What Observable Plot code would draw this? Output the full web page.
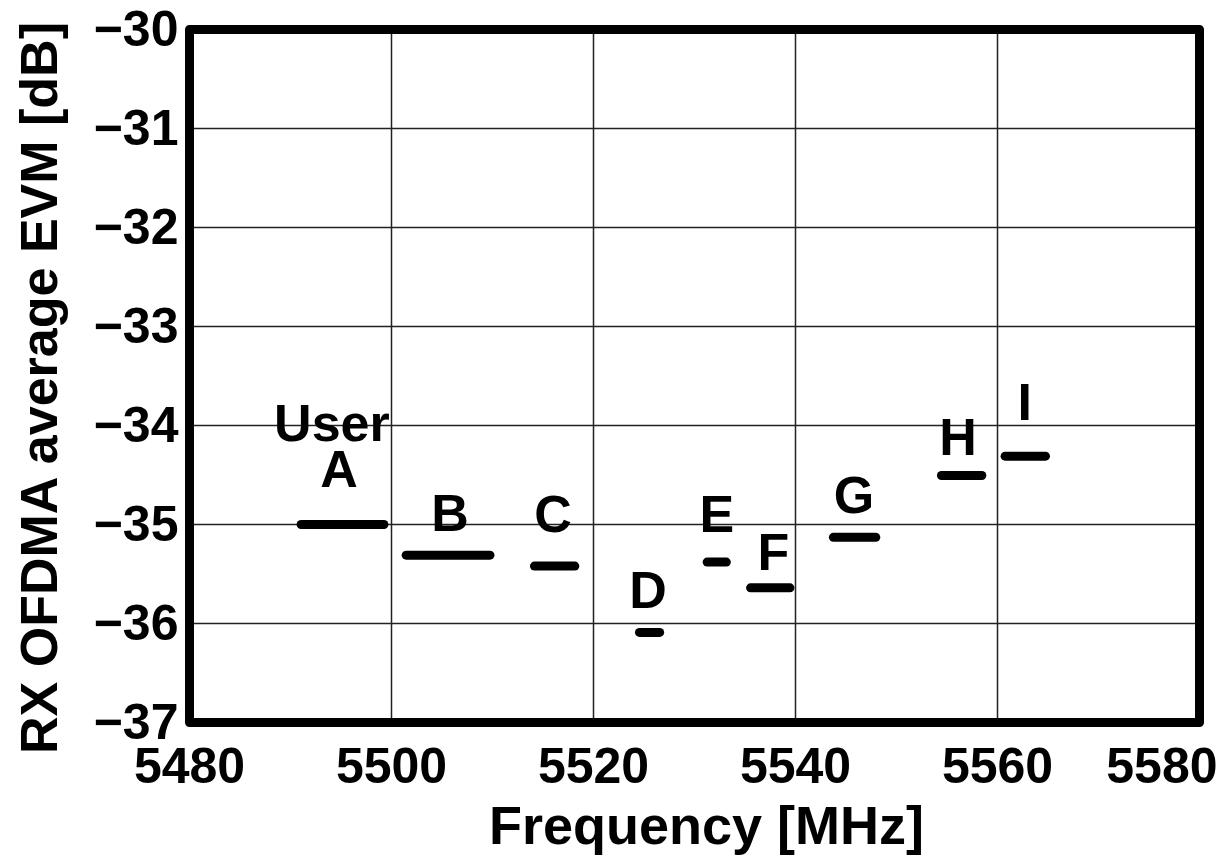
<!DOCTYPE html>
<html>
<head>
<meta charset="utf-8">
<script src="https://cdn.jsdelivr.net/npm/d3@7"></script>
<script src="https://cdn.jsdelivr.net/npm/@observablehq/plot@0.6"></script>
<style>
  html, body { margin: 0; padding: 0; background: #fff; }
  #chart svg { display: block; }
</style>
</head>
<body>
<div id="chart"></div>
<script>
// Users (resource units) and their measured EVM
const users = ["A", "B", "C", "D", "E", "F", "G", "H", "I"];
const freqStart = [5491.1, 5501.5, 5514.2, 5524.6, 5531.3, 5535.6, 5543.8, 5554.5, 5560.8];
const freqEnd   = [5499.3, 5509.8, 5518.2, 5526.6, 5533.2, 5539.5, 5548.0, 5558.5, 5564.8];
const evmDb     = [-35.0, -35.31, -35.42, -36.09, -35.38, -35.64, -35.13, -34.505, -34.31];

// Annotation labels (anchored in data units)
const labelText = ["User", "A", "B", "C", "D", "E", "F", "G", "H", "I"];
const labelFreq = [5494.1, 5494.8, 5505.8, 5516.0, 5525.4, 5532.2, 5537.8, 5545.8, 5556.1, 5562.7];
const labelDb   = [-33.99, -34.45, -34.90, -34.91, -35.68, -34.91, -35.29, -34.72, -34.13, -33.78];

// Axis ticks
const xTicks = [5480, 5500, 5520, 5540, 5560, 5580];
const yTicks = [-30, -31, -32, -33, -34, -35, -36, -37];

const bars = users.map((u, i) => ({user: u, x1: freqStart[i], x2: freqEnd[i], y: evmDb[i]}));
const labels = labelText.map((t, i) => ({text: t, x: labelFreq[i], y: labelDb[i]}));

const font = "'Liberation Sans', Arial, Helvetica, sans-serif";

const chart = Plot.plot({
  width: 1224,
  height: 856,
  marginLeft: 189,
  marginRight: 25,
  marginTop: 29,
  marginBottom: 134,
  style: {fontFamily: font, fontWeight: "bold", color: "#000", background: "#fff"},
  x: {domain: [5480, 5580]},
  y: {domain: [-37, -30]},
  marks: [
    Plot.gridX(xTicks, {stroke: "#222", strokeOpacity: 1, strokeWidth: 1.5}),
    Plot.gridY(yTicks, {stroke: "#222", strokeOpacity: 1, strokeWidth: 1.5}),
    Plot.ruleY(bars, {x1: "x1", x2: "x2", y: "y", stroke: "#000", strokeWidth: 9, strokeLinecap: "round"}),
    Plot.text(labels, {x: "x", y: "y", text: "text", fontSize: 52, fontWeight: "bold", fill: "#000", lineAnchor: "middle"}),
    Plot.frame({stroke: "#000", strokeWidth: 9, strokeLinejoin: "round"}),
    Plot.axisY(yTicks, {tickSize: 0, tickPadding: 11, fontSize: 50, fontWeight: "bold",
      tickFormat: d => "\u2212" + Math.abs(d), label: null}),
    Plot.axisX(xTicks.slice(0, -1), {tickSize: 0, tickPadding: 25, fontSize: 50, fontWeight: "bold",
      tickFormat: d => String(d), label: null}),
    Plot.axisX(xTicks.slice(-1), {tickSize: 0, tickPadding: 25, fontSize: 50, fontWeight: "bold",
      textAnchor: "end", dx: 18, tickFormat: d => String(d), label: null}),
    Plot.text(["Frequency [MHz]"], {frameAnchor: "bottom", dy: 104, dx: 12, fontSize: 54, fontWeight: "bold",
      textAnchor: "middle", lineAnchor: "middle", fill: "#000"}),
    Plot.text(["RX OFDMA average EVM [dB]"], {frameAnchor: "left", dx: -149, dy: 12, rotate: -90, fontSize: 52,
      fontWeight: "bold", textAnchor: "middle", lineAnchor: "middle", fill: "#000"})
  ]
});

document.getElementById("chart").appendChild(chart);
</script>
</body>
</html>
